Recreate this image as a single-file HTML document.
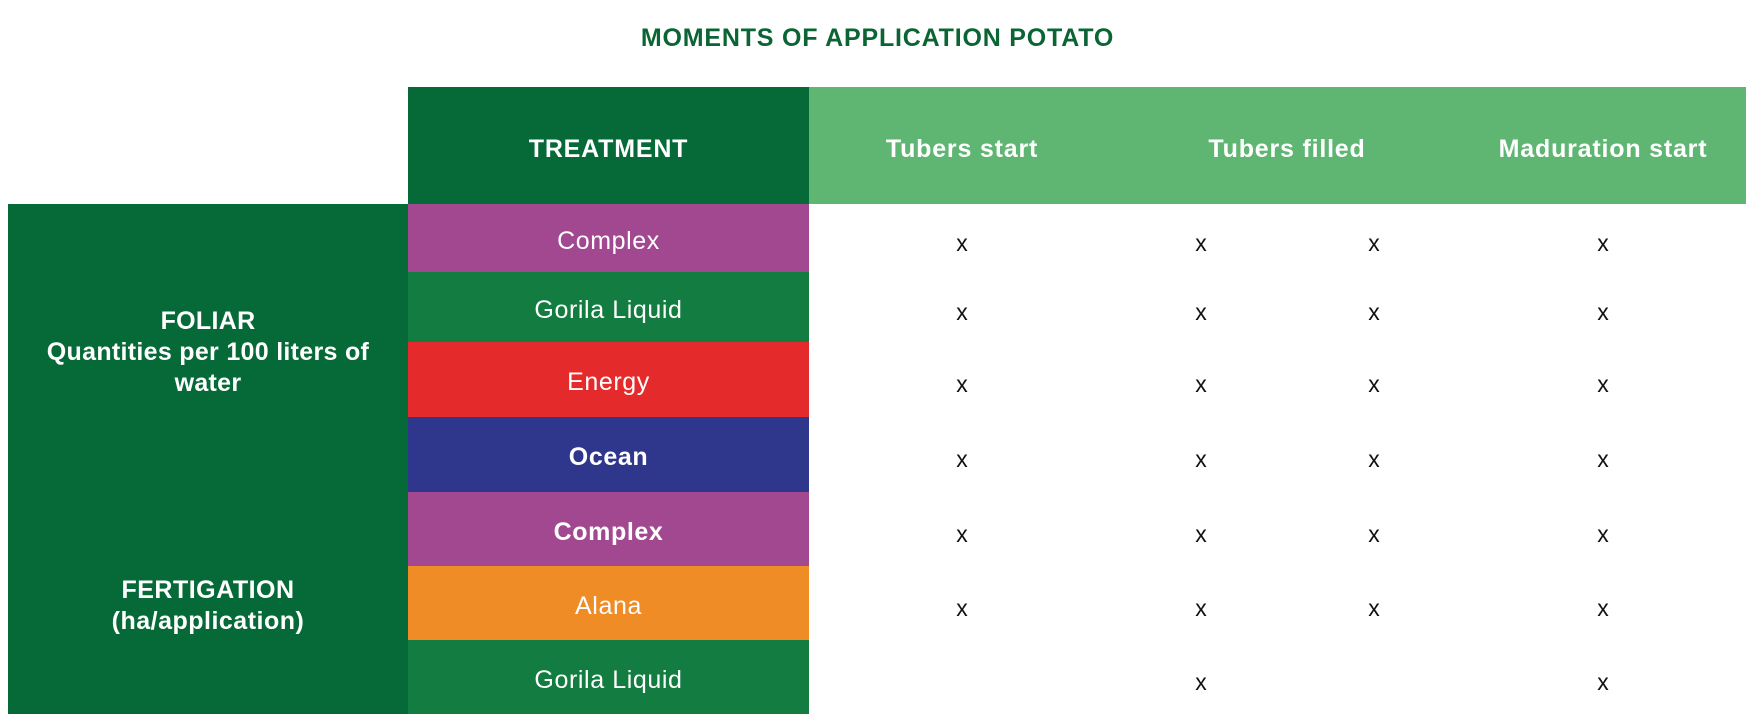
<!DOCTYPE html>
<html><head><style>
body{margin:0;width:1749px;height:728px;background:#fff;position:relative;font-family:"Liberation Sans",sans-serif;overflow:hidden}
div{position:absolute;box-sizing:border-box}
.c{display:flex;align-items:center;justify-content:center;text-align:center;color:#fff;font-size:25px;letter-spacing:0.6px;padding-top:6px}
.h{font-size:25px;letter-spacing:0.8px;padding-top:8px}
.x{font-size:23px;color:#111;transform:translateX(-50%)}
</style></head><body>
<div style="left:600px;top:24px;width:555px;text-align:center;font-weight:bold;font-size:25px;letter-spacing:0.8px;color:#0a6434">MOMENTS OF APPLICATION POTATO</div>
<div class="c h" style="left:408px;top:87px;width:401px;height:117px;background:#056a37;font-weight:bold">TREATMENT</div>
<div style="left:809px;top:87px;width:937px;height:117px;background:#5fb672"></div>
<div class="c h" style="left:862px;top:87px;width:200px;height:117px;font-weight:bold">Tubers start</div>
<div class="c h" style="left:1167px;top:87px;width:240px;height:117px;font-weight:bold">Tubers filled</div>
<div class="c h" style="left:1478px;top:87px;width:250px;height:117px;font-weight:bold">Maduration start</div>
<div style="left:8px;top:204px;width:400px;height:510px;background:#056a37"></div>
<div style="left:8px;top:306px;width:400px;text-align:center;color:#fff;font-weight:bold;font-size:25px;letter-spacing:0.3px;line-height:31px">FOLIAR<br>Quantities per 100 liters of<br>water</div>
<div style="left:8px;top:575px;width:400px;text-align:center;color:#fff;font-weight:bold;font-size:25px;letter-spacing:0.5px;line-height:31px">FERTIGATION<br>(ha/application)</div>
<div class="c" style="left:408px;top:204px;width:401px;height:68px;background:#a24890">Complex</div>
<div class="c" style="left:408px;top:272px;width:401px;height:70px;background:#137c40">Gorila Liquid</div>
<div class="c" style="left:408px;top:342px;width:401px;height:75px;background:#e52a2c">Energy</div>
<div class="c" style="left:408px;top:417px;width:401px;height:75px;background:#2e378b;font-weight:bold">Ocean</div>
<div class="c" style="left:408px;top:492px;width:401px;height:74px;background:#a24890;font-weight:bold">Complex</div>
<div class="c" style="left:408px;top:566px;width:401px;height:74px;background:#f08c25">Alana</div>
<div class="c" style="left:408px;top:640px;width:401px;height:74px;background:#137c40">Gorila Liquid</div>
<div id="xs"></div>
<script>
var ys=[243,312,384,459,534,608,682],xs=[962,1201,1374,1603];
var h='';ys.forEach(function(y,i){xs.forEach(function(x,j){if(i==6&&(j==0||j==2))return;h+='<div class="x" style="left:'+x+'px;top:'+(y-13)+'px">x</div>';});});
document.getElementById('xs').outerHTML=h;
</script>
</body></html>
